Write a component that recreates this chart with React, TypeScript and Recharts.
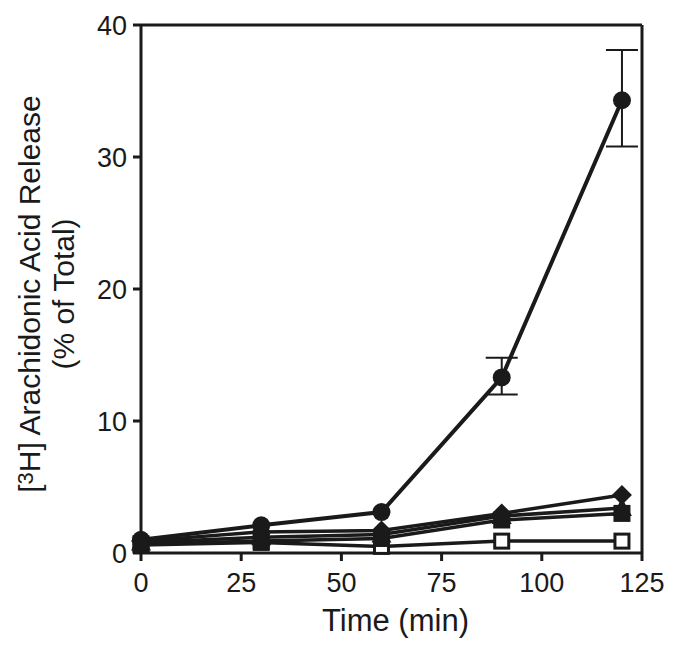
import React from "react"
import {
    LineChart,
    Line,
    XAxis,
    YAxis,
    ReferenceLine,
    ErrorBar,
} from "recharts"

const times = [0, 30, 60, 90, 120]
const circleSeries = [1.0, 2.1, 3.1, 13.3, 34.3]
// [minus, plus] around the mean, only the two last points have visible bars
const circleErr: ([number, number] | null)[] = [null, null, null, [1.3, 1.5], [3.5, 3.8]]
const diamondSeries = [0.9, 1.6, 1.7, 3.0, 4.4]
const triangleSeries = [0.8, 1.2, 1.4, 2.8, 3.4]
const squareSeries = [0.7, 0.9, 1.1, 2.5, 3.0]
const openSquareSeries = [0.6, 0.8, 0.5, 0.9, 0.9]
const xTicks = [0, 25, 50, 75, 100, 125]
const yTicks = [0, 10, 20, 30, 40]

const data = times.map((t, i) => ({
    time: t,
    circle: circleSeries[i],
    circleErr: circleErr[i] ?? undefined,
    diamond: diamondSeries[i],
    triangle: triangleSeries[i],
    square: squareSeries[i],
    openSquare: openSquareSeries[i],
}))

const FONT = "'Liberation Sans', Arial, Helvetica, sans-serif"
const INK = "#1a1a1a"

const CircleDot = (p: any) => <circle key={`c-${p.index}`} cx={p.cx} cy={p.cy} r={9} fill={INK} />
const DiamondDot = (p: any) => {
    const s = 10
    return (
        <polygon
            key={`d-${p.index}`}
            points={`${p.cx},${p.cy - s} ${p.cx + s},${p.cy} ${p.cx},${p.cy + s} ${p.cx - s},${p.cy}`}
            fill={INK}
        />
    )
}
const TriangleDot = (p: any) => {
    const s = 10
    return (
        <polygon
            key={`t-${p.index}`}
            points={`${p.cx},${p.cy - s} ${p.cx + s},${p.cy + s * 0.8} ${p.cx - s},${p.cy + s * 0.8}`}
            fill={INK}
        />
    )
}
const SquareDot = (p: any) => (
    <rect key={`s-${p.index}`} x={p.cx - 8.5} y={p.cy - 8.5} width={17} height={17} fill={INK} />
)
const OpenSquareDot = (p: any) => (
    <rect key={`o-${p.index}`} x={p.cx - 7} y={p.cy - 7} width={14} height={14} fill="#fff" stroke={INK} strokeWidth={3} />
)

const YLabel = () => (
    <g fontFamily={FONT} fontSize={30} fill={INK}>
        <text x={40} y={294} textAnchor="middle" transform="rotate(-90, 40, 294)">
            [<tspan fontSize={22} dy={-7}>3</tspan>
            <tspan dy={7}>H] Arachidonic Acid Release</tspan>
        </text>
        <text x={74} y={294} textAnchor="middle" transform="rotate(-90, 74, 294)">
            (% of Total)
        </text>
    </g>
)

const XLabel = (props: any) => {
    const vb = props.viewBox || {}
    const cx = (vb.x ?? 141) + (vb.width ?? 500) / 2
    return (
        <text x={cx + 4} y={631} textAnchor="middle" fontFamily={FONT} fontSize={31} fill={INK}>
            Time (min)
        </text>
    )
}

export default function App() {
    return (
        <div style={{ position: "absolute", left: 0, top: 0, width: 682, height: 650, background: "#fff" }}>
            <LineChart width={682} height={650} data={data} margin={{ top: 25, right: 40, left: 0, bottom: 0 }}>
                <XAxis
                    dataKey="time"
                    type="number"
                    domain={[0, 125]}
                    ticks={xTicks}
                    height={97}
                    stroke={INK}
                    strokeWidth={3}
                    tickSize={8}
                    tickMargin={12}
                    tick={{ fill: INK, fontSize: 27, fontFamily: FONT }}
                    label={<XLabel />}
                />
                <YAxis
                    type="number"
                    domain={[0, 40]}
                    ticks={yTicks}
                    width={141}
                    stroke={INK}
                    strokeWidth={3}
                    tickSize={8}
                    tickMargin={6}
                    tick={{ fill: INK, fontSize: 27, fontFamily: FONT }}
                    label={<YLabel />}
                />
                <ReferenceLine y={40} stroke={INK} strokeWidth={3} />
                <ReferenceLine x={125} stroke={INK} strokeWidth={3} />
                <Line dataKey="openSquare" stroke={INK} strokeWidth={3.5} dot={OpenSquareDot} isAnimationActive={false} />
                <Line dataKey="square" stroke={INK} strokeWidth={3.5} dot={SquareDot} isAnimationActive={false} />
                <Line dataKey="triangle" stroke={INK} strokeWidth={3.5} dot={TriangleDot} isAnimationActive={false} />
                <Line dataKey="diamond" stroke={INK} strokeWidth={3.5} dot={DiamondDot} isAnimationActive={false} />
                <Line dataKey="circle" stroke={INK} strokeWidth={4} dot={CircleDot} isAnimationActive={false}>
                    <ErrorBar dataKey="circleErr" direction="y" width={16} stroke={INK} strokeWidth={2} isAnimationActive={false} />
                </Line>
            </LineChart>
        </div>
    )
}
